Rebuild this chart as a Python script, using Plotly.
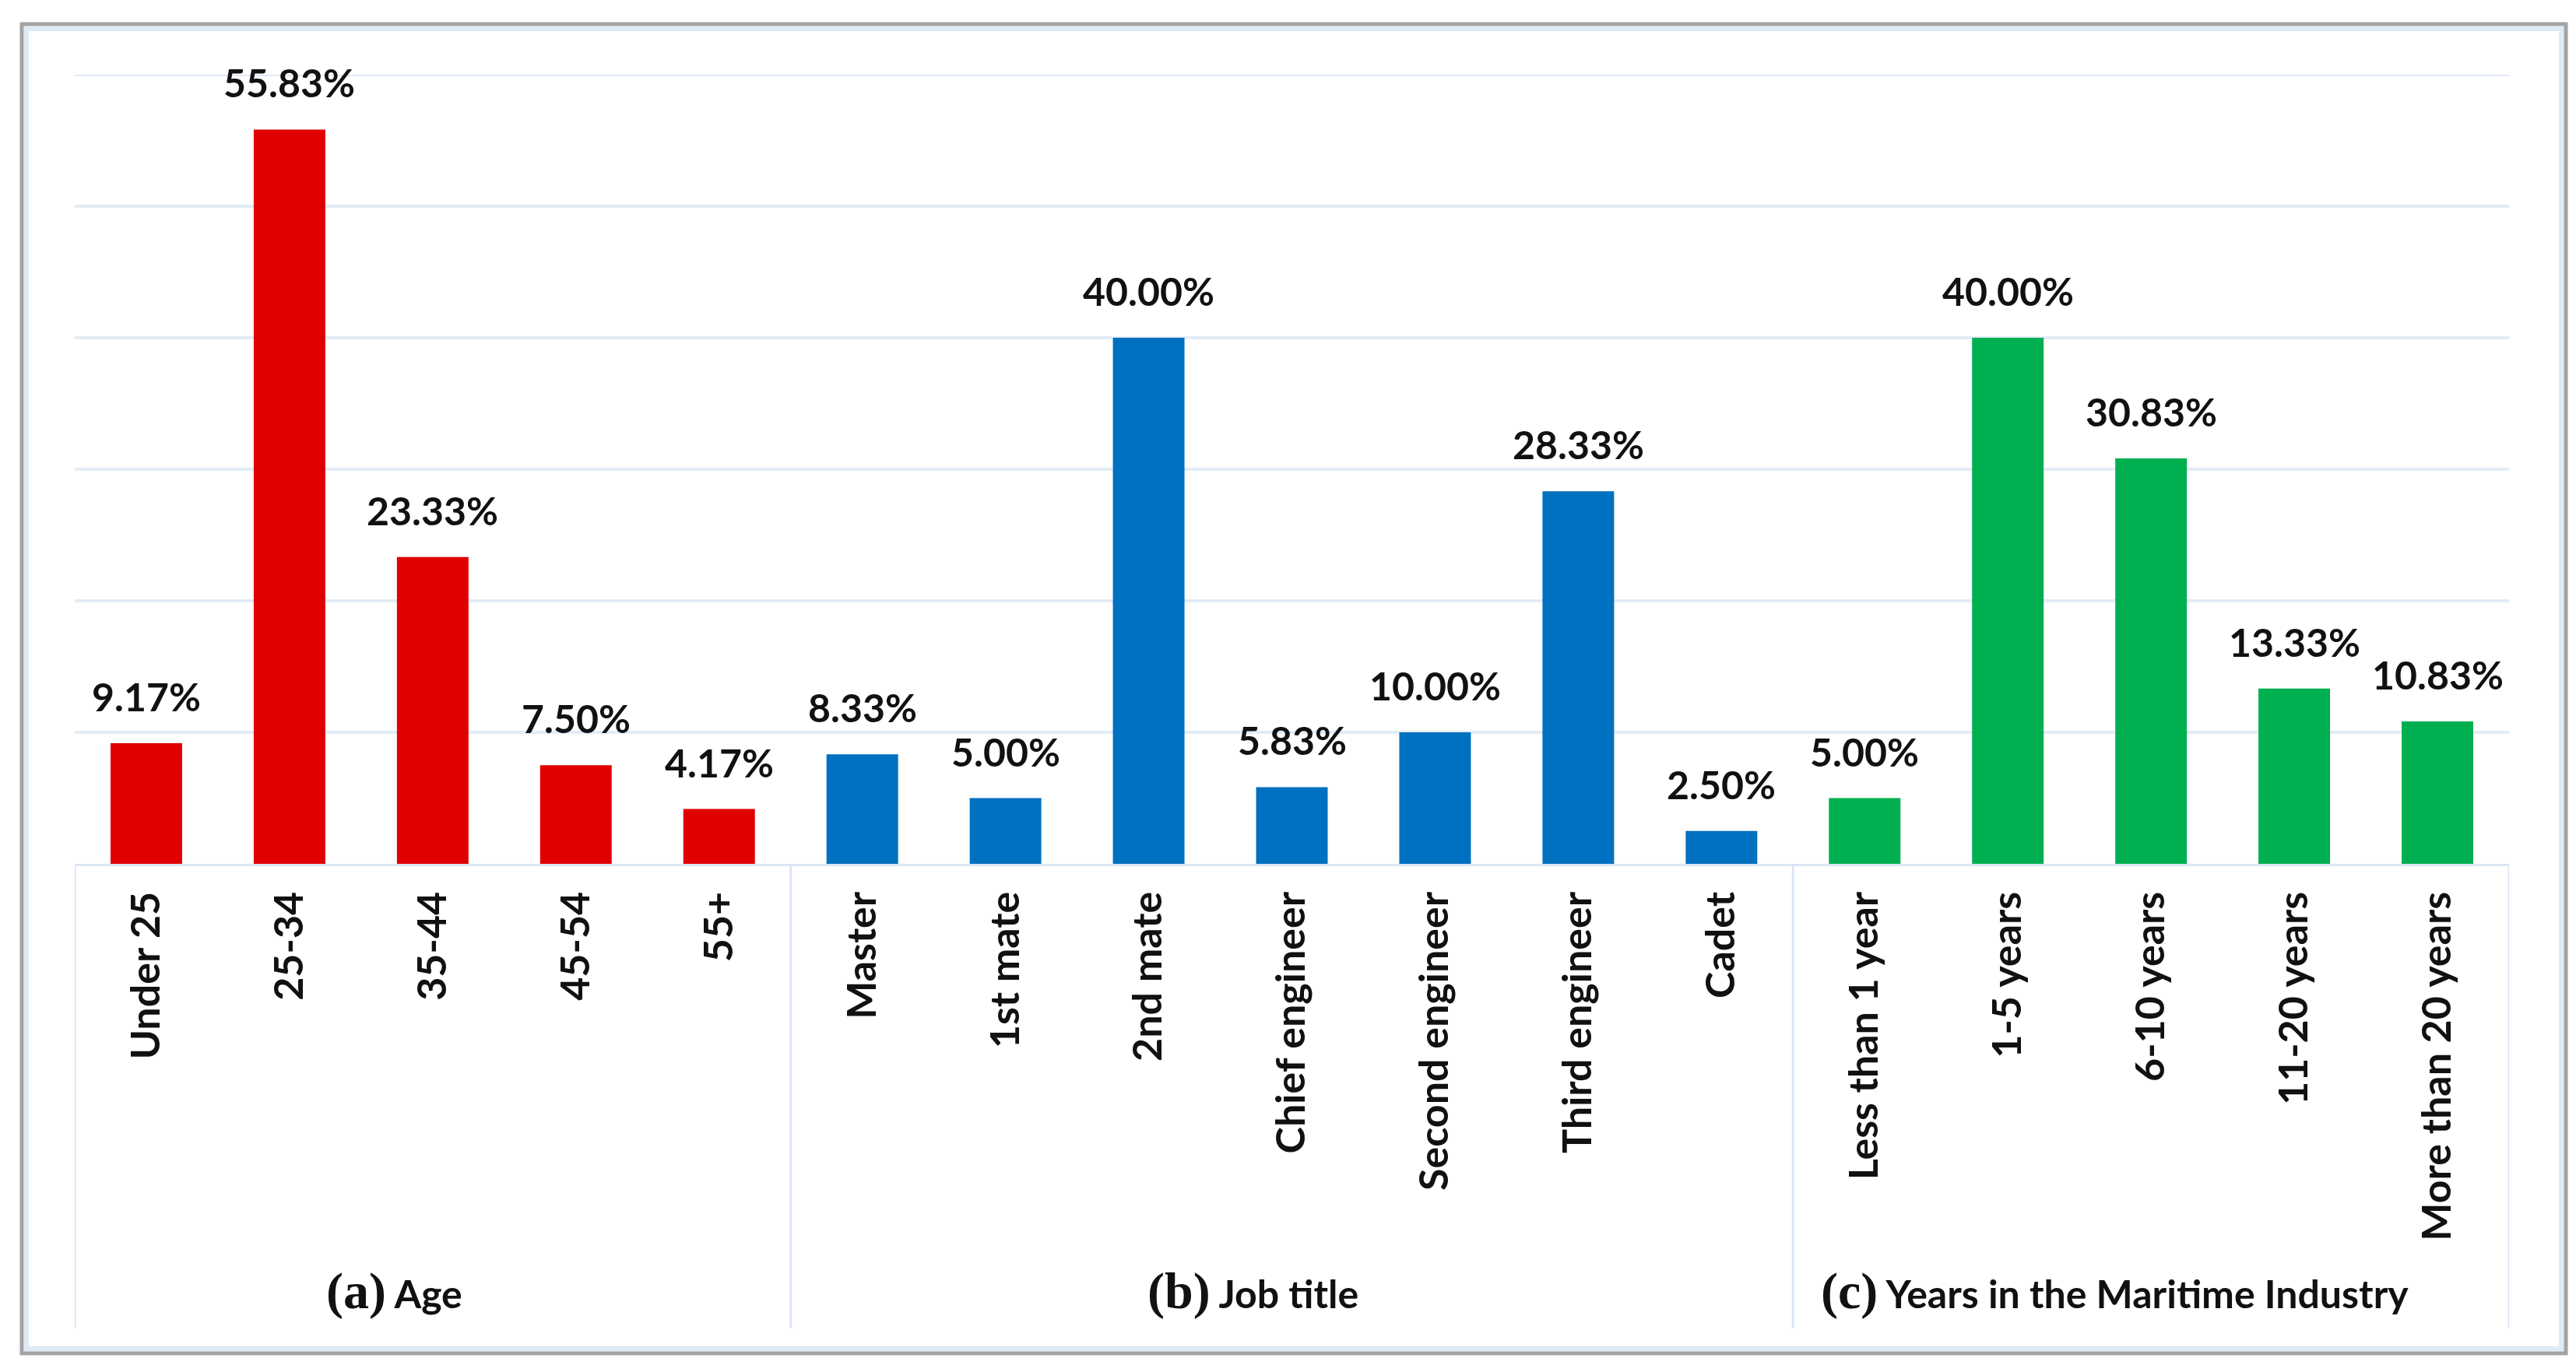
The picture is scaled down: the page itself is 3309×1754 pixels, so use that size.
import plotly.graph_objects as go

# ---- data ----
age_cats = ["Under 25", "25-34", "35-44", "45-54", "55+"]
age_vals = [9.17, 55.83, 23.33, 7.50, 4.17]

job_cats = ["Master", "1st mate", "2nd mate", "Chief engineer",
            "Second engineer", "Third engineer", "Cadet"]
job_vals = [8.33, 5.00, 40.00, 5.83, 10.00, 28.33, 2.50]

yrs_cats = ["Less than 1 year", "1-5 years", "6-10 years", "11-20 years",
            "More than 20 years"]
yrs_vals = [5.00, 40.00, 30.83, 13.33, 10.83]

group_titles = ["(a)", "(b)", "(c)"]
group_names = ["Age", "Job title", "Years in the Maritime Industry"]

colors = ["#E00000", "#0070C0", "#00B050"]

Y_MAX = 60
Y_STEP = 10

# ---- figure geometry (px) ----
W, H = 3309, 1754
ML, MR, MT, MB = 88, 94, 88, 652
PW = W - ML - MR
PH = H - MT - MB


def px_x(px):
    return (px - ML) / PW


def px_y(py):
    return (H - MB - py) / PH


all_cats = age_cats + job_cats + yrs_cats
groups = [(age_cats, age_vals), (job_cats, job_vals), (yrs_cats, yrs_vals)]

fig = go.Figure()
for (cats, vals), col in zip(groups, colors):
    fig.add_trace(go.Bar(x=cats, y=vals, marker=dict(color=col, line=dict(width=0)),
                         showlegend=False, hoverinfo="x+y"))

FONT = "Lato"
annotations = []
for cats, vals in groups:
    for c, v in zip(cats, vals):
        annotations.append(dict(x=c, y=v, xref="x", yref="y", text=f"{v:.2f}%",
                                showarrow=False, yanchor="middle", yshift=60,
                                font=dict(family=FONT, size=50, color="#111111", weight="bold")))

# group titles
title_px = [498, 1601, 2708]
for t, n, xp in zip(group_titles, group_names, title_px):
    annotations.append(dict(
        x=px_x(xp), y=px_y(1651), xref="paper", yref="paper",
        text=f"<span style=\"font-family:Liberation Serif;font-size:66px\">{t}</span> {n}",
        showarrow=False, xanchor="center", yanchor="middle",
        font=dict(family=FONT, size=50, color="#111111", weight="bold")))

shapes = []
# top grid line (at the axis range end)
shapes.append(dict(type="line", xref="paper", yref="y", x0=0, x1=1, y0=Y_MAX, y1=Y_MAX,
                   line=dict(color="#E2ECF7", width=4), layer="below"))
# separators
n = len(all_cats)
sep_pos = [-0.5, len(age_cats) - 0.5, len(age_cats) + len(job_cats) - 0.5, n - 0.5]
for sx in sep_pos:
    shapes.append(dict(type="line", xref="x", yref="paper", x0=sx, x1=sx,
                       y0=0, y1=px_y(1699), line=dict(color="#DAE6F4", width=3)))
# outer frame
shapes.append(dict(type="rect", xref="paper", yref="paper",
                   x0=px_x(26), x1=px_x(3282), y0=px_y(29), y1=px_y(1725),
                   line=dict(color="#DDEAF7", width=6), layer="below"))
shapes.append(dict(type="rect", xref="paper", yref="paper",
                   x0=px_x(20), x1=px_x(3288), y0=px_y(23), y1=px_y(1731),
                   line=dict(color="#A3A3A3", width=5), layer="below"))

fig.update_layout(
    width=W, height=H,
    margin=dict(l=ML, r=MR, t=MT, b=MB),
    paper_bgcolor="white", plot_bgcolor="white",
    barmode="overlay", bargap=0.5,
    annotations=annotations, shapes=shapes,
    xaxis=dict(categoryorder="array", categoryarray=all_cats, range=[-0.5, n - 0.5],
               tickangle=-90, tickfont=dict(family=FONT, size=52, color="#111111", weight="bold"),
               ticks="", ticklabelstandoff=12, showgrid=False,
               showline=True, linecolor="#DAE6F4", linewidth=3, zeroline=False),
    yaxis=dict(range=[0, Y_MAX], dtick=Y_STEP, showticklabels=False, showgrid=True,
               gridcolor="#E2ECF7", gridwidth=4, zeroline=False, showline=False),
)

fig.write_html("out.html")
